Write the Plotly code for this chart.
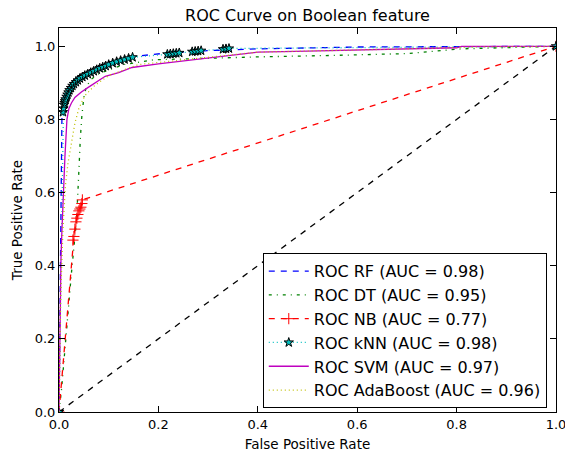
import plotly.graph_objects as go

# ---- data ----
rf_fpr = [0.0, 0.002, 0.004, 0.005, 0.006, 0.008, 0.012, 0.018, 0.025, 0.035, 0.05, 0.07, 0.1, 0.15, 0.22, 0.3, 0.4, 0.5, 0.6, 0.8, 1.0]
rf_tpr = [0.0, 0.3, 0.55, 0.72, 0.82, 0.85, 0.87, 0.885, 0.9, 0.912, 0.925, 0.94, 0.955, 0.972, 0.982, 0.988, 0.993, 0.996, 0.998, 0.999, 1.0]

dt_fpr = [0.0, 0.005, 0.01, 0.015, 0.02, 0.025, 0.03, 0.035, 0.038, 0.04, 0.043, 0.046, 0.05, 0.055, 0.065, 0.08, 0.1, 0.13, 0.19, 0.3, 0.4, 0.55, 0.7, 0.81, 0.9, 1.0]
dt_tpr = [0.0, 0.06, 0.14, 0.21, 0.3, 0.38, 0.45, 0.52, 0.6, 0.68, 0.75, 0.81, 0.86, 0.89, 0.91, 0.925, 0.935, 0.95, 0.963, 0.968, 0.971, 0.975, 0.98, 0.993, 0.997, 1.0]

nb_fpr = [0.0, 0.028, 0.03, 0.032, 0.034, 0.036, 0.038, 0.04, 0.042, 0.044, 0.046, 0.047, 1.0]
nb_tpr = [0.0, 0.47, 0.48, 0.5, 0.52, 0.53, 0.54, 0.55, 0.555, 0.56, 0.57, 0.58, 1.0]

knn_fpr = [0.0, 0.008, 0.009, 0.01, 0.011, 0.012, 0.013, 0.015, 0.017, 0.019, 0.021, 0.024, 0.027, 0.03, 0.034, 0.038,
           0.042, 0.047, 0.052, 0.058, 0.064, 0.07, 0.076, 0.082, 0.088, 0.094, 0.1, 0.108, 0.116, 0.124, 0.132, 0.14,
           0.148, 0.218, 0.224, 0.23, 0.236, 0.242, 0.268, 0.274, 0.28, 0.286, 0.33, 0.336, 0.342, 1.0]
knn_tpr = [0.0, 0.82, 0.83, 0.84, 0.845, 0.85, 0.855, 0.862, 0.868, 0.874, 0.88, 0.886, 0.892, 0.897, 0.902, 0.907,
           0.912, 0.916, 0.92, 0.924, 0.928, 0.932, 0.936, 0.94, 0.943, 0.946, 0.95, 0.954, 0.958, 0.961, 0.964, 0.967,
           0.97, 0.978, 0.979, 0.98, 0.981, 0.982, 0.985, 0.986, 0.987, 0.988, 0.992, 0.993, 0.994, 1.0]

svm_fpr = [0.0, 0.002, 0.004, 0.006, 0.008, 0.01, 0.012, 0.014, 0.016, 0.02, 0.025, 0.032, 0.045, 0.058, 0.075, 0.093,
           0.12, 0.147, 0.2, 0.25, 0.33, 0.4, 0.5, 0.6, 0.7, 0.8, 0.81, 1.0]
svm_tpr = [0.0, 0.3, 0.42, 0.5, 0.58, 0.65, 0.7, 0.75, 0.8, 0.83, 0.845, 0.86, 0.875, 0.887, 0.903, 0.918,
           0.928, 0.942, 0.952, 0.96, 0.972, 0.984, 0.987, 0.99, 0.993, 0.996, 1.0, 1.0]

ada_fpr = [0.0, 0.003, 0.008, 0.013, 0.018, 0.025, 0.032, 0.04, 0.052, 0.072, 0.1, 0.16, 0.26, 0.4, 0.6, 0.85, 1.0]
ada_tpr = [0.0, 0.3, 0.5, 0.62, 0.68, 0.74, 0.79, 0.83, 0.865, 0.893, 0.92, 0.95, 0.965, 0.984, 0.99, 0.998, 1.0]

diag = [0.0, 1.0]

labels = ["ROC RF (AUC = 0.98)", "ROC DT (AUC = 0.95)", "ROC NB (AUC = 0.77)",
          "ROC kNN (AUC = 0.98)", "ROC SVM (AUC = 0.97)", "ROC AdaBoost (AUC = 0.96)"]

tick_vals = [0.0, 0.2, 0.4, 0.6, 0.8, 1.0]

FONT = "DejaVu Sans"
LW = 1.3

fig = go.Figure()

fig.add_trace(go.Scatter(x=diag, y=diag, mode="lines", showlegend=False,
                         line=dict(color="black", width=LW, dash="6px,6px")))

fig.add_trace(go.Scatter(x=rf_fpr, y=rf_tpr, mode="lines", name=labels[0],
                         line=dict(color="#0000ff", width=LW, dash="6px,6px")))
fig.add_trace(go.Scatter(x=dt_fpr, y=dt_tpr, mode="lines", name=labels[1],
                         line=dict(color="#008000", width=LW, dash="3px,5px,1px,5px")))
fig.add_trace(go.Scatter(x=nb_fpr, y=nb_tpr, mode="lines+markers", name=labels[2],
                         line=dict(color="#ff0000", width=LW, dash="6px,6px"),
                         marker=dict(symbol="cross-thin", size=8, color="#ff0000",
                                     line=dict(color="#ff0000", width=1))))
fig.add_trace(go.Scatter(x=knn_fpr, y=knn_tpr, mode="lines+markers", name=labels[3],
                         line=dict(color="#00bfbf", width=LW, dash="1px,3px"),
                         marker=dict(symbol="star", size=7, color="#00bfbf",
                                     line=dict(color="black", width=1))))
fig.add_trace(go.Scatter(x=svm_fpr, y=svm_tpr, mode="lines", name=labels[4],
                         line=dict(color="#bf00bf", width=LW)))
fig.add_trace(go.Scatter(x=ada_fpr, y=ada_tpr, mode="lines", name=labels[5],
                         line=dict(color="#bfbf00", width=LW, dash="1px,3px")))

axis_common = dict(showline=True, linecolor="black", linewidth=1, mirror="ticks",
                   ticks="inside", ticklen=6, tickwidth=1, tickcolor="black",
                   showgrid=False, zeroline=False, tickvals=tick_vals,
                   ticklabeloverflow="allow", automargin=False,
                   tickformat=".1f", tickfont=dict(family=FONT, size=13, color="black"))

fig.update_layout(
    width=565, height=452,
    margin=dict(l=59, r=9, t=28, b=40),
    paper_bgcolor="white", plot_bgcolor="white",
    font=dict(family=FONT, color="black"),
    title=dict(text="ROC Curve on Boolean feature", x=0.5, xref="paper",
               y=1 - 15 / 452, yanchor="middle", xanchor="center",
               font=dict(family=FONT, size=16, color="black")),
    xaxis=dict(range=[0, 1],
               title=dict(text="False Positive Rate", font=dict(family=FONT, size=13.5, color="black"), standoff=9),
               **axis_common),
    yaxis=dict(range=[0, 1.05],
               title=dict(text="True Positive Rate", font=dict(family=FONT, size=13.5, color="black"), standoff=8),
               **axis_common),
    legend=dict(x=0.41, y=0.01, xanchor="left", yanchor="bottom",
                bgcolor="white", bordercolor="black", borderwidth=1,
                font=dict(family=FONT, size=16, color="black"),
                itemwidth=40, tracegroupgap=0),
)

fig.write_html("out.html")
